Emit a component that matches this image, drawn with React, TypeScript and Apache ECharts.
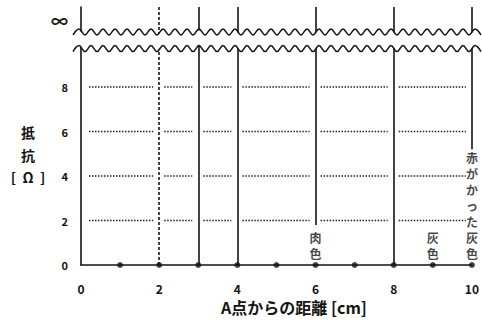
import React, { useEffect, useRef } from "react";
import * as echarts from "echarts";

const distances = [1, 2, 3, 4, 5, 6, 7, 8, 9, 10];
const resistanceAtPoints = [0, 0, 0, 0, 0, 0, 0, 0, 0, 0];
const infiniteAt = [2, 3, 4, 6, 8, 10];
const infiniteFrom = [0, 0, 0, 1.8, 0, 5.2];
const infiniteDashed = [true, false, false, false, false, false];
const colorNames = ["肉色", "灰色", "赤がかった灰色"];
const colorNameAt = [6, 9, 10];
const yTickValues = [0, 2, 4, 6, 8];
const infinityLevel = 11;
const gridLevels = [2, 4, 6, 8];
const breakLevels = [10.48, 9.73];
const xName = "A点からの距離 [cm]";
const yName = "抵\n抗\n[  Ω  ]";

const FONT = "'Noto Sans CJK JP', 'Noto Sans', sans-serif";
const INK = "#141414";

export default function App() {
  const ref = useRef<HTMLDivElement>(null);
  useEffect(() => {
    if (!ref.current) return;
    const chart = echarts.init(ref.current, null, { renderer: "svg" });
    const yMax = 11.6;
    const option: any = {
      animation: false,
      backgroundColor: "#ffffff",
      grid: { left: 81, right: 10, top: 7, bottom: 56 },
      xAxis: {
        type: "value",
        min: 0,
        max: 10,
        interval: 2,
        axisLine: { show: true, lineStyle: { color: INK, width: 1.6 } },
        axisTick: { show: false },
        splitLine: { show: false },
        axisLabel: { margin: 17, color: INK, fontFamily: FONT, fontWeight: "bold", fontSize: 12 },
      },
      yAxis: {
        type: "value",
        min: 0,
        max: yMax,
        interval: 2,
        axisLine: { show: true, lineStyle: { color: INK, width: 1.6 } },
        axisTick: { show: false },
        splitLine: { show: false },
        axisLabel: {
          customValues: [...yTickValues, infinityLevel],
          margin: 13,
          color: INK,
          fontFamily: FONT,
          fontWeight: "bold",
          fontSize: 11,
          formatter: (v: number) => (v === infinityLevel ? "{inf|∞}" : String(v)),
          rich: { inf: { fontSize: 17, fontWeight: "bold", color: INK, fontFamily: FONT } },
        },
      },
      graphic: [
        {
          type: "text",
          x: 28,
          y: 121,
          style: {
            text: yName,
            fill: INK,
            font: `bold 14px ${FONT}`,
            align: "center",
            lineHeight: 22.5,
          },
        },
        {
          type: "text",
          x: 294,
          y: 307,
          style: {
            text: xName,
            fill: INK,
            font: `bold 16px ${FONT}`,
            align: "center",
            verticalAlign: "middle",
          },
        },
      ],
      series: [
        {
          type: "custom",
          z: 1,
          silent: true,
          data: gridLevels.map((v) => [v]),
          renderItem: (params: any, api: any) => {
            const y = api.value(0);
            const stops = [0, ...infiniteAt];
            const children: any[] = [];
            for (let i = 0; i < stops.length - 1; i++) {
              const a = api.coord([stops[i], y]);
              const b = api.coord([stops[i + 1], y]);
              const g1 = i === 0 ? 8 : 5;
              children.push({
                type: "line",
                shape: { x1: a[0] + g1, y1: a[1], x2: b[0] - 6, y2: b[1] },
                style: { stroke: "#222", lineWidth: 1.4, lineDash: [1.5, 1.5] },
              });
            }
            return { type: "group", children };
          },
        },
        {
          type: "scatter",
          z: 3,
          symbol: "circle",
          symbolSize: 6,
          itemStyle: { color: INK },
          data: distances.map((d, i) => [d, resistanceAtPoints[i]]),
          markLine: {
            silent: true,
            symbol: ["none", "none"],
            label: { show: false },
            data: infiniteAt.map((x, i) => [
              {
                coord: [x, infiniteFrom[i]],
                lineStyle: { color: INK, width: 1.6, type: infiniteDashed[i] ? [3, 2] : "solid" },
              },
              { coord: [x, yMax] },
            ]),
          },
        },
        {
          type: "scatter",
          z: 4,
          symbol: "circle",
          symbolSize: 1,
          itemStyle: { color: "rgba(0,0,0,0)" },
          silent: true,
          data: colorNameAt.map((x, i) => [x, 0, colorNames[i]]),
          label: {
            show: true,
            position: "top",
            distance: 3,
            color: INK,
            fontFamily: FONT,
            fontWeight: "bold",
            fontSize: 12,
            lineHeight: 16,
            formatter: (p: any) => String(p.data[2]).split("").join("\n"),
          },
        },
        {
          type: "custom",
          z: 10,
          silent: true,
          data: [breakLevels],
          renderItem: (params: any, api: any) => {
            const yU = api.coord([0, api.value(0)])[1];
            const yL = api.coord([0, api.value(1)])[1];
            const x0 = api.coord([0, 0])[0] - 8;
            const x1 = api.getWidth() + 4;
            const wl = 12;
            const amp = 3;
            const up: number[][] = [];
            const lo: number[][] = [];
            let k = 0;
            for (let x = x0; x <= x1; x += wl / 2) {
              const s = k % 2 === 0 ? amp : -amp;
              up.push([x, yU + s]);
              lo.push([x, yL + s]);
              k++;
            }
            const band = [...up.map((p) => [p[0], p[1] + 1]), ...lo.slice().reverse().map((p) => [p[0], p[1] - 1])];
            return {
              type: "group",
              children: [
                { type: "polygon", shape: { points: band }, style: { fill: "#ffffff", stroke: null } },
                { type: "polyline", shape: { points: up, smooth: 0.4 }, style: { stroke: INK, lineWidth: 1.5, fill: null } },
                { type: "polyline", shape: { points: lo, smooth: 0.4 }, style: { stroke: INK, lineWidth: 1.5, fill: null } },
              ],
            };
          },
        },
      ],
    };
    chart.setOption(option);
    return () => chart.dispose();
  }, []);
  return <div ref={ref} style={{ width: 482, height: 321, position: "absolute", left: 0, top: 0 }} />;
}
